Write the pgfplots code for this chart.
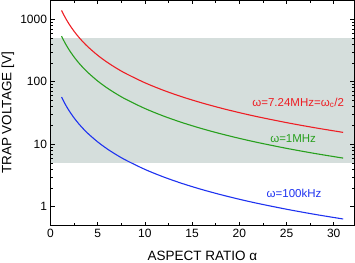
\documentclass[border=0pt]{standalone}
\usepackage{fontspec}
\setmainfont{Liberation Sans}
\usepackage{pgfplots}
\pgfplotsset{compat=1.18}
\definecolor{band}{RGB}{213,222,220}
\definecolor{cred}{RGB}{238,30,36}
\definecolor{cgreen}{RGB}{40,160,30}
\definecolor{cblue}{RGB}{30,50,240}
\begin{document}
\begin{tikzpicture}
\begin{axis}[
  scale only axis, width=304pt, height=225pt,
  xmin=0, xmax=32.2, ymode=log, ymin=0.5, ymax=2000,
  xtick={0,5,...,30}, minor x tick num=1,
  ytick={1,10,100,1000}, log ticks with fixed point,
  /pgf/number format/assume math mode=true,
  /pgf/number format/set thousands separator={},
  tick label style={font=\fontsize{12}{12}\selectfont},
  xlabel={ASPECT RATIO α}, ylabel={TRAP VOLTAGE [V]},
  xlabel style={font=\fontsize{13.5}{14}\selectfont, at={(axis description cs:0.5,-0.1644)}, anchor=south, inner sep=1.2pt},
  ylabel style={font=\fontsize{13.5}{14}\selectfont, at={(axis description cs:-0.1668,0.5)}, anchor=north, inner sep=1.5pt},
  axis on top, axis line style={line width=1pt},
  tick style={black, line width=0.7pt}, major tick length=4pt, minor tick length=2.5pt,
  tick align=inside,
  clip=true,
]
\addplot[fill=band, draw=none] coordinates {(0,5) (0,500) (32.2,500) (32.2,5)} -- cycle;
\addplot[cred, line width=1.1pt, smooth] coordinates {
(1.17,1389.5) (1.25,1311.0) (1.5,1106.7) (1.75,949.0) (2,824.4) (2.5,642.0) (3,516.4) (3.5,425.8) (4,358.2) (5,265.1) (6,205.3) (7,164.4) (8,135.0) (10,96.36) (12,72.66) (14,56.99) (16,46.04) (18,38.06) (20,32.06) (22,27.41) (25,22.19) (28,18.37) (31,15.48)};
\addplot[cgreen, line width=1.1pt, smooth] coordinates {
(1.17,538.2) (1.25,507.8) (1.5,428.7) (1.75,367.6) (2,319.4) (2.5,248.7) (3,200.0) (3.5,165.0) (4,138.8) (5,102.7) (6,79.54) (7,63.68) (8,52.29) (10,37.33) (12,28.15) (14,22.07) (16,17.83) (18,14.74) (20,12.42) (22,10.62) (25,8.595) (28,7.115) (31,5.997)};
\addplot[cblue, line width=1.1pt, smooth] coordinates {
(1.17,57.04) (1.25,53.82) (1.5,45.43) (1.75,38.96) (2,33.84) (2.5,26.35) (3,21.20) (3.5,17.48) (4,14.70) (5,10.885) (6,8.430) (7,6.749) (8,5.542) (10,3.956) (12,2.983) (14,2.339) (16,1.890) (18,1.563) (20,1.316) (22,1.125) (25,0.9109) (28,0.7540) (31,0.6356)};
\node[cred, anchor=east, font=\fontsize{11.5}{12}\selectfont, inner sep=0pt] at (axis cs:31.1,46) {ω=7.24MHz=ω\textsubscript{c}/2};
\node[cgreen, font=\fontsize{11.5}{12}\selectfont, inner sep=0pt] at (axis cs:25.7,12.5) {ω=1MHz};
\node[cblue, font=\fontsize{11.5}{12}\selectfont, inner sep=0pt] at (axis cs:25.8,1.62) {ω=100kHz};
\end{axis}
\end{tikzpicture}
\end{document}
